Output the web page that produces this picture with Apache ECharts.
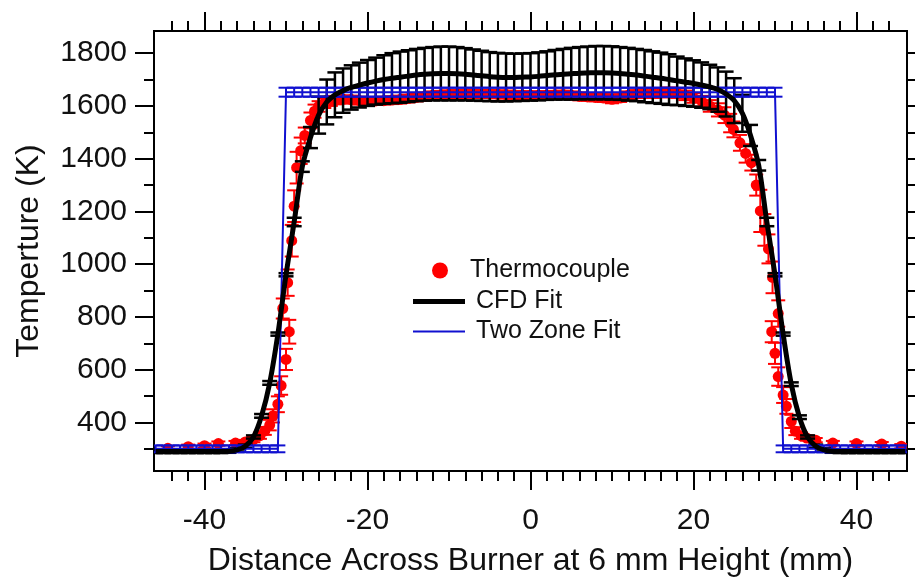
<!DOCTYPE html>
<html>
<head>
<meta charset="utf-8">
<script src="https://cdn.jsdelivr.net/npm/echarts@6/dist/echarts.min.js"></script>
<style>
html,body{margin:0;padding:0;background:#fff;}
#chart{width:915px;height:582px;}
</style>
</head>
<body>
<div id="chart"></div>
<script>
// ---- tick labels ----
const xMajor = [-40, -20, 0, 20, 40];
const xMinor = [-44, -42, -38, -36, -34, -32, -30, -28, -26, -24, -22, -18, -16, -14, -12, -10, -8, -6, -4, -2, 2, 4, 6, 8, 10, 12, 14, 16, 18, 22, 24, 26, 28, 30, 32, 34, 36, 38, 42, 44];
const yMajor = [400, 600, 800, 1000, 1200, 1400, 1600, 1800];
const yMinor = [300, 500, 700, 900, 1100, 1300, 1500, 1700];

// ---- CFD fit (black) ----
const cfdX = [-46, -45, -44, -43, -42, -41, -40, -39, -38, -37, -36, -35, -34, -33, -32, -31, -30, -29, -28, -27, -26, -25, -24, -23, -22, -21, -20, -19, -18, -17, -16, -15, -14, -13, -12, -11, -10, -9, -8, -7, -6, -5, -4, -3, -2, -1, 0, 1, 2, 3, 4, 5, 6, 7, 8, 9, 10, 11, 12, 13, 14, 15, 16, 17, 18, 19, 20, 21, 22, 23, 24, 25, 26, 27, 28, 29, 30, 31, 32, 33, 34, 35, 36, 37, 38, 39, 40, 41, 42, 43, 44, 45, 46];
const cfdY = [290, 290, 290, 290, 290, 290, 290, 290, 290, 291, 296, 310, 345, 425, 550, 735, 960, 1160, 1370, 1480, 1565, 1615, 1642, 1658, 1670, 1679, 1687, 1694, 1700, 1705, 1709, 1713, 1717, 1720, 1722, 1723, 1723, 1722, 1720, 1717, 1714, 1711, 1709, 1708, 1708, 1709, 1710, 1712, 1715, 1718, 1720, 1722, 1724, 1725, 1726, 1726, 1725, 1723, 1720, 1717, 1713, 1709, 1705, 1700, 1695, 1690, 1685, 1679, 1672, 1662, 1645, 1620, 1572, 1488, 1375, 1160, 960, 735, 545, 420, 345, 310, 296, 291, 290, 290, 290, 290, 290, 290, 290, 290, 290];
const cfdErr = [6, 6, 6, 6, 6, 6, 6, 6, 6, 6, 6, 6, 6, 7, 7, 6, 6, 16, 20, 40, 70, 85, 85, 84, 84, 85, 87, 89, 92, 95, 97, 98, 99, 100, 101, 102, 102, 101, 99, 97, 95, 93, 92, 91, 90, 90, 90, 91, 92, 94, 96, 98, 99, 100, 101, 101, 101, 100, 100, 99, 99, 98, 97, 96, 92, 90, 88, 86, 84, 84, 85, 85, 70, 40, 20, 16, 6, 6, 7, 7, 6, 6, 6, 6, 6, 6, 6, 6, 6, 6, 6, 6, 6];

// ---- Two zone fit (blue) ----
const tzX = cfdX;
const tzY = [300, 300, 300, 300, 300, 300, 300, 300, 300, 300, 300, 300, 300, 300, 300, 300, 1652, 1652, 1652, 1652, 1652, 1652, 1652, 1652, 1652, 1652, 1652, 1652, 1652, 1652, 1652, 1652, 1652, 1652, 1652, 1652, 1652, 1652, 1652, 1652, 1652, 1652, 1652, 1652, 1652, 1652, 1652, 1652, 1652, 1652, 1652, 1652, 1652, 1652, 1652, 1652, 1652, 1652, 1652, 1652, 1652, 1652, 1652, 1652, 1652, 1652, 1652, 1652, 1652, 1652, 1652, 1652, 1652, 1652, 1652, 1652, 1652, 300, 300, 300, 300, 300, 300, 300, 300, 300, 300, 300, 300, 300, 300, 300, 300];
const tzErr = [13, 13, 13, 13, 13, 13, 13, 13, 13, 13, 13, 13, 13, 13, 13, 13, 17, 17, 17, 17, 17, 17, 17, 17, 17, 17, 17, 17, 17, 17, 17, 17, 17, 17, 17, 17, 17, 17, 17, 17, 17, 17, 17, 17, 17, 17, 17, 17, 17, 17, 17, 17, 17, 17, 17, 17, 17, 17, 17, 17, 17, 17, 17, 17, 17, 17, 17, 17, 17, 17, 17, 17, 17, 17, 17, 17, 17, 13, 13, 13, 13, 13, 13, 13, 13, 13, 13, 13, 13, 13, 13, 13, 13];

// ---- Thermocouple (red) ----
const tcX = [-44.5, -42, -40, -38.3, -36.2, -35, -34, -33.2, -32.6, -32, -31.6, -31, -30.6, -30, -29.6, -30.4, -29.8, -29.3, -29, -28.7, -28.2, -27.7, -27, -26.5, -26, -25.3, -24.5, -24, -23, -22, -21, -20, -19, -18, -17, -16, -15, -14, -13, -12, -11, -10, -9, -8, -7, -6, -5, -4, -3, -2, -1, 0, 1, 2, 3, 4, 5, 6, 7, 8, 9, 10, 11, 12, 13, 14, 15, 16, 17, 18, 19, 20, 21, 22, 23, 23.8, 24.5, 24.9, 25.7, 26.4, 27.1, 27.7, 28.2, 28.7, 29.2, 29.7, 30.4, 29.6, 30, 30.4, 31, 31.4, 32, 32.5, 33.2, 33.9, 35, 37.1, 40, 43.1, 45.5];
const tcY = [302, 308, 312, 320, 322, 326, 335, 350, 368, 390, 425, 469, 540, 639, 744, 832, 930, 1089, 1220, 1366, 1430, 1488, 1545, 1580, 1598, 1610, 1618, 1622, 1625, 1624, 1620, 1618, 1619, 1620, 1622, 1624, 1628, 1632, 1636, 1640, 1642, 1644, 1645, 1646, 1646, 1645, 1645, 1644, 1643, 1642, 1641, 1640, 1640, 1641, 1642, 1643, 1640, 1636, 1634, 1632, 1630, 1625, 1630, 1640, 1645, 1648, 1648, 1650, 1652, 1648, 1640, 1630, 1618, 1600, 1585, 1565, 1535, 1511, 1460, 1420, 1385, 1300, 1202, 1130, 1058, 950, 813, 744, 662, 574, 504, 461, 404, 367, 350, 341, 333, 322, 320, 318, 310];
const tcErr = [8, 8, 8, 8, 8, 8, 10, 12, 15, 20, 25, 30, 35, 40, 45, 38, 50, 60, 60, 60, 50, 30, 30, 25, 20, 18, 18, 16, 15, 15, 15, 15, 15, 15, 15, 15, 15, 15, 15, 15, 15, 15, 15, 15, 15, 15, 15, 15, 15, 15, 15, 15, 15, 15, 15, 15, 15, 15, 15, 15, 15, 15, 15, 15, 15, 18, 18, 18, 18, 18, 18, 18, 20, 22, 25, 30, 35, 30, 30, 35, 30, 40, 80, 60, 55, 60, 50, 40, 40, 35, 30, 28, 25, 15, 12, 10, 8, 8, 8, 8, 8];

// ---- helpers ----
function toPts(xs, ys) { return xs.map((x, i) => [x, ys[i]]); }
function toErr(xs, ys, es) { return xs.map((x, i) => [x, ys[i] - es[i], ys[i] + es[i]]); }
function errRender(capW, color, lw) {
  return function (params, api) {
    const x = api.value(0);
    const p1 = api.coord([x, api.value(1)]);
    const p2 = api.coord([x, api.value(2)]);
    const st = { stroke: color, lineWidth: lw, fill: null };
    return {
      type: 'group',
      children: [
        { type: 'line', shape: { x1: p1[0], y1: p1[1], x2: p2[0], y2: p2[1] }, style: st },
        { type: 'line', shape: { x1: p1[0] - capW / 2, y1: p1[1], x2: p1[0] + capW / 2, y2: p1[1] }, style: st },
        { type: 'line', shape: { x1: p2[0] - capW / 2, y1: p2[1], x2: p2[0] + capW / 2, y2: p2[1] }, style: st }
      ]
    };
  };
}

const FONT = 'Liberation Sans, Arial, Helvetica, sans-serif';
const XMIN = -46.2, XMAX = 46.2, YMIN = 216, YMAX = 1884;
const lineBlack = { color: '#000', width: 2 };
const plain = v => String(v);

function xAx(pos, values, len, withLabel, extra) {
  return Object.assign({
    type: 'value', position: pos, min: XMIN, max: XMAX,
    axisLine: { show: true, onZero: false, lineStyle: lineBlack },
    axisTick: { show: true, inside: false, length: len, customValues: values, lineStyle: lineBlack },
    axisLabel: withLabel ? { show: true, customValues: values, formatter: plain, fontSize: 30, fontFamily: FONT, color: '#111', margin: 35 } : { show: false },
    splitLine: { show: false }
  }, extra || {});
}
function yAx(pos, values, len, withLabel, extra) {
  return Object.assign({
    type: 'value', position: pos, min: YMIN, max: YMAX,
    axisLine: { show: true, onZero: false, lineStyle: lineBlack },
    axisTick: { show: true, inside: false, length: len, customValues: values, lineStyle: lineBlack },
    axisLabel: withLabel ? { show: true, customValues: values, formatter: plain, fontSize: 30, fontFamily: FONT, color: '#111', margin: 27 } : { show: false },
    splitLine: { show: false }
  }, extra || {});
}

const chart = echarts.init(document.getElementById('chart'), null, { renderer: 'canvas' });
chart.setOption({
  backgroundColor: '#fff',
  animation: false,
  grid: { left: 154, right: 8, top: 31, bottom: 109, containLabel: false },
  xAxis: [
    xAx('bottom', xMajor, 19, true, {
      name: 'Distance Across Burner at 6 mm Height (mm)', nameLocation: 'middle', nameGap: 74,
      nameTextStyle: { fontSize: 32, fontFamily: FONT, color: '#111' }
    }),
    xAx('bottom', xMinor, 10, false),
    xAx('top', xMajor, 19, false),
    xAx('top', xMinor, 10, false)
  ],
  yAxis: [
    yAx('left', yMajor, 19, true, {
      name: 'Temperture (K)', nameLocation: 'middle', nameGap: 109, nameRotate: 90,
      nameTextStyle: { fontSize: 32, fontFamily: FONT, color: '#111' }
    }),
    yAx('left', yMinor, 10, false),
    yAx('right', yMajor, 19, false),
    yAx('right', yMinor, 10, false)
  ],
  legend: [
    { data: [{ name: 'Thermocouple', icon: 'circle' }], left: 432, top: 258, orient: 'vertical', padding: 0,
      itemWidth: 16, itemHeight: 16,
      textStyle: { fontSize: 25, fontFamily: FONT, color: '#111', padding: [0, 0, 0, 17] } },
    { data: [{ name: 'CFD Fit', icon: 'rect' }], left: 413, top: 289, orient: 'vertical', padding: 0,
      itemWidth: 52, itemHeight: 5,
      textStyle: { fontSize: 25, fontFamily: FONT, color: '#111', padding: [0, 0, 0, 6] } },
    { data: [{ name: 'Two Zone Fit', icon: 'rect' }], left: 413, top: 319, orient: 'vertical', padding: 0,
      itemWidth: 52, itemHeight: 2,
      textStyle: { fontSize: 25, fontFamily: FONT, color: '#111', padding: [0, 0, 0, 6] } }
  ],
  series: [
    { name: 'ThermoErr', type: 'custom', xAxisIndex: 0, yAxisIndex: 0, clip: true, z: 1,
      renderItem: errRender(14, '#ff0000', 2), encode: { x: 0, y: [1, 2] },
      data: toErr(tcX, tcY, tcErr), silent: true },
    { name: 'Thermocouple', type: 'scatter', xAxisIndex: 0, yAxisIndex: 0, z: 2,
      symbol: 'circle', symbolSize: 11, itemStyle: { color: '#ff0000', opacity: 1 },
      data: toPts(tcX, tcY) },
    { name: 'CFDErr', type: 'custom', xAxisIndex: 0, yAxisIndex: 0, clip: true, z: 3,
      renderItem: errRender(15, '#000', 2.5), encode: { x: 0, y: [1, 2] },
      data: toErr(cfdX, cfdY, cfdErr), silent: true },
    { name: 'TZErr', type: 'custom', xAxisIndex: 0, yAxisIndex: 0, clip: true, z: 4,
      renderItem: errRender(15, '#1010d0', 2), encode: { x: 0, y: [1, 2] },
      data: toErr(tzX, tzY, tzErr), silent: true },
    { name: 'Two Zone Fit', type: 'line', xAxisIndex: 0, yAxisIndex: 0, z: 5,
      symbol: 'none', showSymbol: false, lineStyle: { color: '#1010d0', width: 2 }, itemStyle: { color: '#1010d0' },
      data: toPts(tzX, tzY) },
    { name: 'CFD Fit', type: 'line', xAxisIndex: 0, yAxisIndex: 0, z: 6, smooth: 0.3,
      symbol: 'none', showSymbol: false, lineStyle: { color: '#000', width: 5 }, itemStyle: { color: '#000' },
      data: toPts(cfdX, cfdY) }
  ]
});
</script>
</body>
</html>
